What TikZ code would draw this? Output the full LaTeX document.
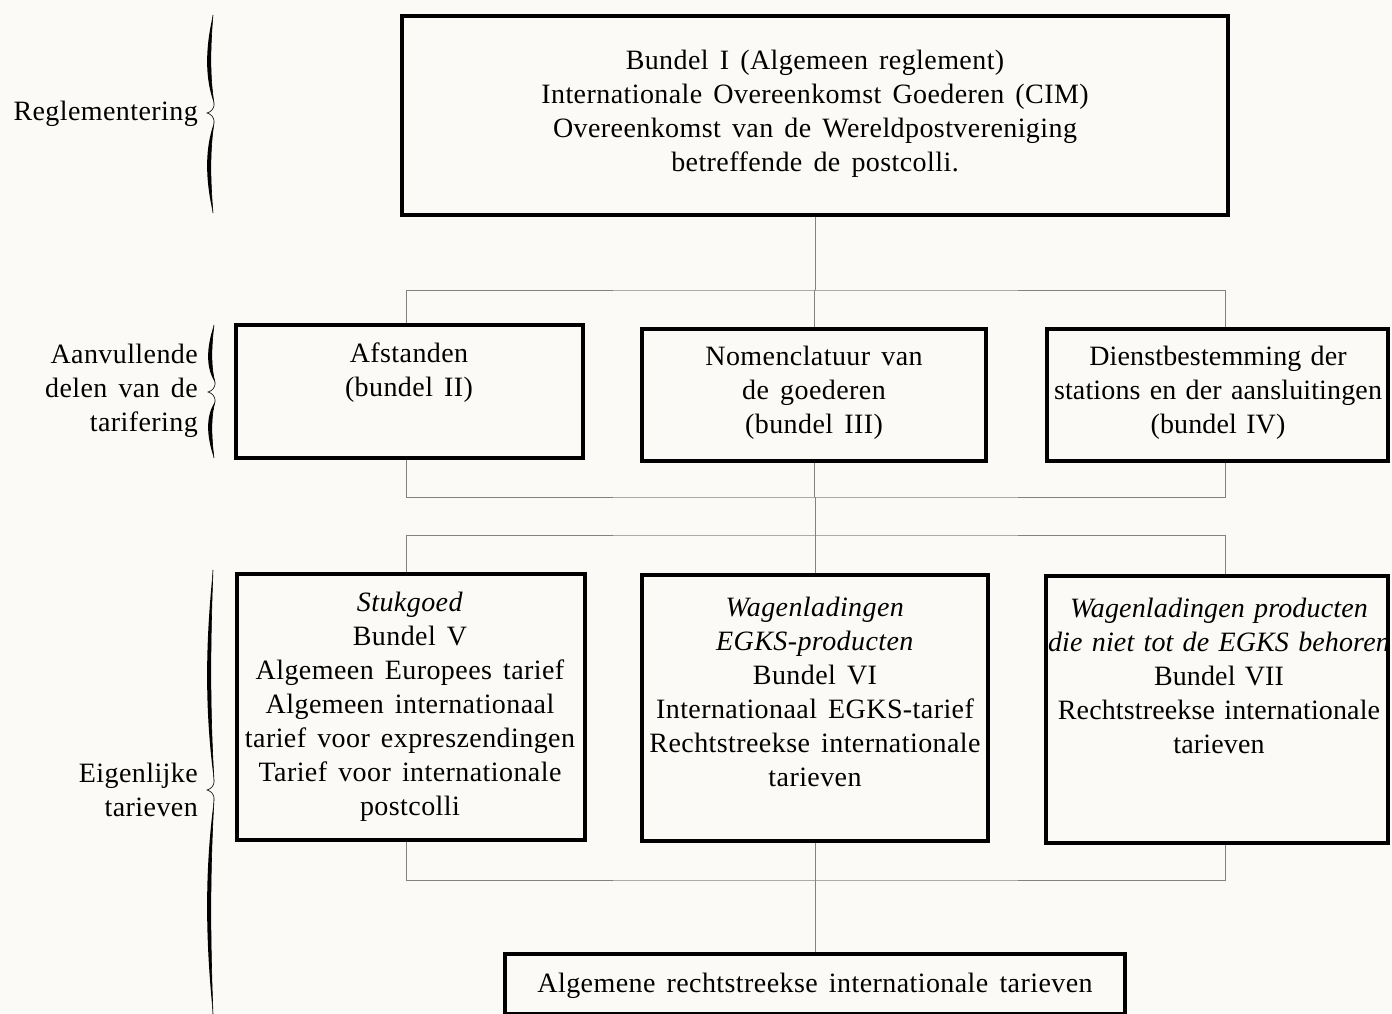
\documentclass[tikz,border=0pt]{standalone}
\usepackage{fontspec}
\setmainfont[LetterSpace=1.5,WordSpace=1.5]{Liberation Serif}
\newfontfamily\tightfont[LetterSpace=0.5,WordSpace=1.3]{Liberation Serif}
\definecolor{paper}{RGB}{251,250,246}
\definecolor{connc}{RGB}{130,130,130}
\newcommand\tbrace[4]{%
  % upper half
  \fill (#1,#2) .. controls ({#1-3},{#2+0.35*(#3-#2)}) and ({#1-3},{#3-0.35*(#3-#2)}) .. ({#1+1},{#3-10})
     .. controls ({#1-8},{#3-0.35*(#3-#2)}) and ({#1-8},{#2+0.35*(#3-#2)}) .. cycle;
  \draw[line width=0.6pt] (#1,#2) .. controls ({#1-3},{#2+0.35*(#3-#2)}) and ({#1-3},{#3-0.35*(#3-#2)}) .. ({#1+1},{#3-10});
  \draw[line width=0.6pt] ({#1+1},{#3-10}) .. controls ({#1+1.5},{#3-3}) and ({#1-3},{#3-1}) .. ({#1-6},#3)
     .. controls ({#1-3},{#3+1}) and ({#1+1.5},{#3+3}) .. ({#1+1},{#3+10});
  % lower half
  \fill (#1,#4) .. controls ({#1-3},{#4-0.35*(#4-#3)}) and ({#1-3},{#3+0.35*(#4-#3)}) .. ({#1+1},{#3+10})
     .. controls ({#1-8},{#3+0.35*(#4-#3)}) and ({#1-8},{#4-0.35*(#4-#3)}) .. cycle;
  \draw[line width=0.6pt] (#1,#4) .. controls ({#1-3},{#4-0.35*(#4-#3)}) and ({#1-3},{#3+0.35*(#4-#3)}) .. ({#1+1},{#3+10});
}
\begin{document}
\begin{tikzpicture}[x=1pt,y=-1pt,
  box/.style={draw, line width=4.8pt, inner sep=0pt},
  txt/.style={align=center, inner sep=0pt, font=\fontsize{28}{34}\selectfont},
  ttxt/.style={align=center, inner sep=0pt, font=\tightfont\fontsize{28}{34}\selectfont},
  lbl/.style={align=right, anchor=east, inner sep=0pt, font=\fontsize{28}{34}\selectfont},
  conn/.style={line width=0.8pt, draw=connc}]
\fill[paper] (0,0) rectangle (1392,1014);
\useasboundingbox (0,0) rectangle (1392,1014);

% connector columns and buses
\coordinate (colA) at (406,0);
\coordinate (colC) at (1225,0);
\coordinate (bus1) at (815,290);
\coordinate (bus2) at (815,497);
\coordinate (bus3) at (815,535);
\coordinate (bus4) at (815,880);

% boxes
\node[box, minimum width=826pt, minimum height=199pt] (top) at (815,115.5) {};
\node[box, minimum width=347pt, minimum height=133pt] (a2) at (409.5,391.5) {};
\node[box, minimum width=344pt, minimum height=132pt] (b2) at (814,395) {};
\node[box, minimum width=341pt, minimum height=132pt] (c2) at (1217.5,395) {};
\node[box, minimum width=348pt, minimum height=266pt] (a3) at (411,707) {};
\node[box, minimum width=346pt, minimum height=266pt] (b3) at (815,708) {};
\node[box, minimum width=342pt, minimum height=267pt] (c3) at (1217,709.5) {};
\node[box, minimum width=620pt, minimum height=60pt] (bot) at (815,984) {};

% texts
\node[txt] (topt) at (815,114) {Bundel I (Algemeen reglement)\\Internationale Overeenkomst Goederen (CIM)\\Overeenkomst van de Wereldpostvereniging\\betreffende de postcolli.};
\node[txt] (a2t) at (409,372.5) {Afstanden\\(bundel II)};
\node[txt] (b2t) at (814,393) {Nomenclatuur van\\de goederen\\(bundel III)};
\node[ttxt] (c2t) at (1218,393) {Dienstbestemming der\\stations en der aansluitingen\\(bundel IV)};
\node[txt] (a3t) at (410,706.5) {\textit{Stukgoed}\\Bundel V\\Algemeen Europees tarief\\Algemeen internationaal\\tarief voor expreszendingen\\Tarief voor internationale\\postcolli};
\node[txt] (b3t) at (815,692) {\textit{Wagenladingen}\\\textit{EGKS-producten}\\Bundel VI\\Internationaal EGKS-tarief\\Rechtstreekse internationale\\tarieven};
\node[ttxt] (c3t) at (1219,676) {\textit{Wagenladingen producten}\\\textit{die niet tot de EGKS behoren}\\Bundel VII\\Rechtstreekse internationale\\tarieven};
\node[txt] (bott) at (815,986) {Algemene rechtstreekse internationale tarieven};

% side labels
\node[lbl] (l1) at (198,114) {Reglementering};
\node[lbl] (l2) at (198,390.5) {Aanvullende\\delen van de\\tarifering};
\node[lbl] (l3) at (198,790) {Eigenlijke\\tarieven};

% braces
\tbrace{213}{15}{113}{213}
\tbrace{214}{325}{392}{458}
\tbrace{213}{570}{790}{1014}

% connectors
\draw[conn] (top.south) -- (bus1);
\draw[conn] (colA |- a2.north) |- (bus1) -| (colC |- c2.north);
\draw[conn] (b2.north) -- (b2.north |- bus1);
\draw[conn] (colA |- a2.south) |- (bus2) -| (colC |- c2.south);
\draw[conn] (b2.south) -- (b2.south |- bus2);
\draw[conn] (bus2) -- (bus3);
\draw[conn] (colA |- a3.north) |- (bus3) -| (colC |- c3.north);
\draw[conn] (b3.north) -- (b3.north |- bus3);
\draw[conn] (colA |- a3.south) |- (bus4) -| (colC |- c3.south);
\draw[conn] (b3.south) -- (b3.south |- bus4);
\draw[conn] (bus4) -- (bot.north);
\end{tikzpicture}
\end{document}
